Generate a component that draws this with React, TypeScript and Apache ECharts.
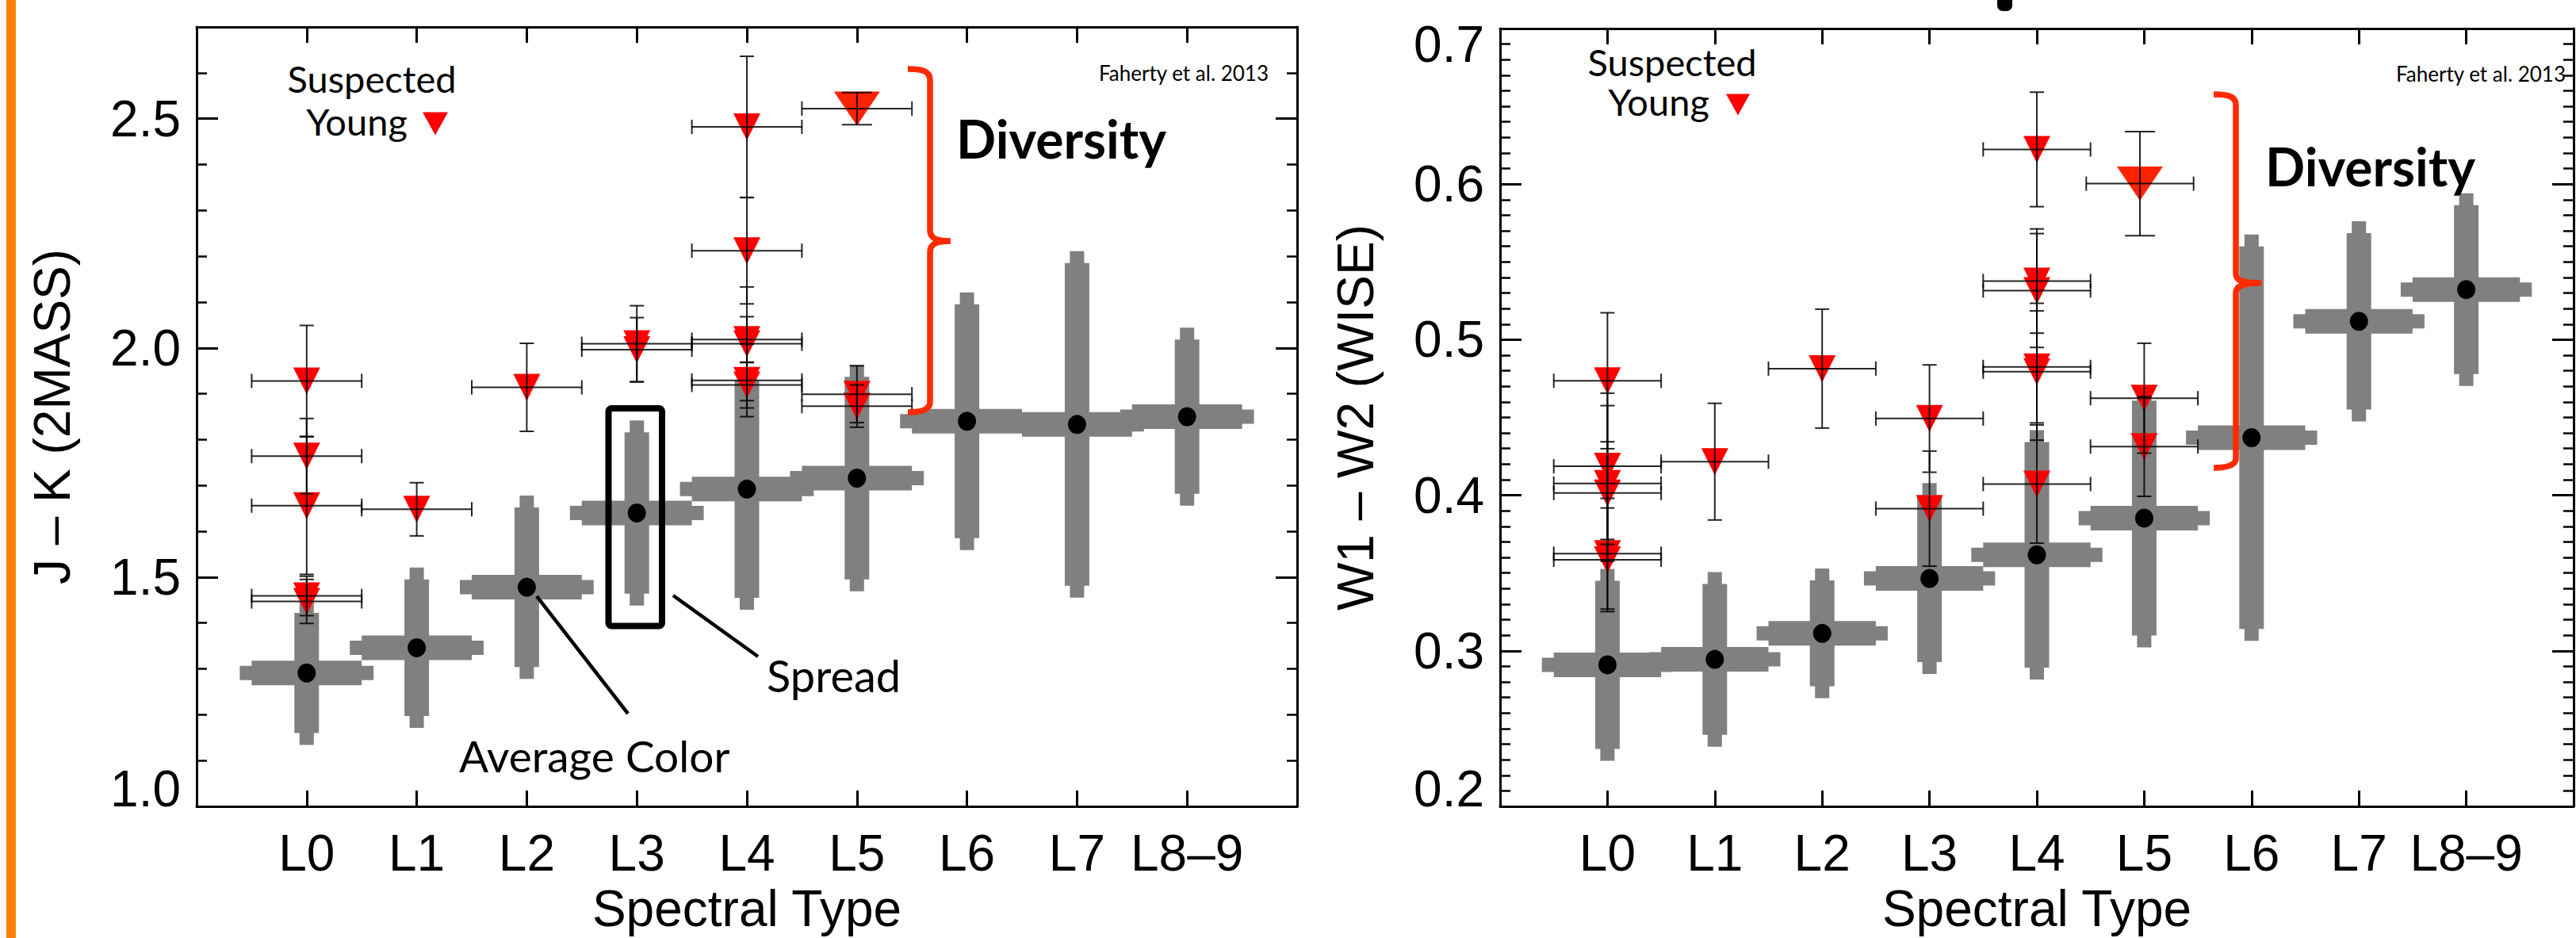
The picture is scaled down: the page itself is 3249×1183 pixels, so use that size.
import React, { useEffect, useRef } from 'react';
import * as echarts from 'echarts';

// ---------------- data ----------------
const categories = ['L0', 'L1', 'L2', 'L3', 'L4', 'L5', 'L6', 'L7', 'L8–9'];
const sptIndex = [0, 1, 2, 3, 4, 5, 6, 7, 8];
const SPT_ERR = 0.5; // half-width of spectral type uncertainty

// J - K (2MASS): average colour and spread per spectral type
const jkMean = [1.291, 1.346, 1.478, 1.64, 1.692, 1.716, 1.84, 1.833, 1.85];
const jkSpread = [0.131, 0.149, 0.174, 0.176, 0.237, 0.221, 0.255, 0.352, 0.168];
// suspected young objects (J - K)
const jkYoungSpt = [0, 0, 0, 0, 0, 1, 2, 3, 3, 4, 4, 4, 4, 4, 4, 5, 5];
const jkYoungVal = [1.928, 1.764, 1.656, 1.459, 1.447, 1.648, 1.914, 2.009, 1.996, 2.482, 2.212, 2.018, 2.009, 1.929, 1.919, 1.899, 1.873];
const jkYoungErr = [0.121, 0.082, 0.15, 0.043, 0.048, 0.058, 0.096, 0.083, 0.07, 0.154, 0.116, 0.05, 0.124, 0.079, 0.05, 0.062, 0.046];
const jkBigSpt = [5];
const jkBigVal = [2.522];
const jkBigErr = [0.035];

// W1 - W2 (WISE)
const wMean = [0.291, 0.2945, 0.3112, 0.3465, 0.3617, 0.3853, 0.437, 0.5118, 0.5322];
const wSpread = [0.054, 0.0485, 0.034, 0.0537, 0.0725, 0.0755, 0.123, 0.0567, 0.0543];
const wYoungSpt = [0, 0, 0, 0, 0, 0, 1, 2, 3, 3, 4, 4, 4, 4, 4, 4, 5, 5];
const wYoungVal = [0.4736, 0.4186, 0.4076, 0.4014, 0.3624, 0.3585, 0.4216, 0.4814, 0.4493, 0.3914, 0.6223, 0.5377, 0.5316, 0.4825, 0.4794, 0.4072, 0.4624, 0.4313];
const wYoungErr = [0.0437, 0.047, 0.05, 0.033, 0.0356, 0.0333, 0.0375, 0.0382, 0.0345, 0.037, 0.0368, 0.0335, 0.0366, 0.036, 0.044, 0.038, 0.0353, 0.032];
const wBigSpt = [4.96];
const wBigVal = [0.6003];
const wBigErr = [0.0335];

// axis ticks
const jkTickValues = [1.0, 1.5, 2.0, 2.5];
const jkTickLabels = ['1.0', '1.5', '2.0', '2.5'];
const wTickValues = [0.2, 0.3, 0.4, 0.5, 0.6, 0.7];
const wTickLabels = ['0.2', '0.3', '0.4', '0.5', '0.6', '0.7'];

// ---------------- shapes ----------------
const braceLeft =
  'M1145 87 C1162 87 1173 89 1173 101 L1173 290 C1173 300 1180 304 1199 304 C1180 304 1173 308 1173 318 L1173 507 C1173 517 1162 520 1145 520';
const braceRight =
  'M2792 119 C2809 119 2820 121 2820 132 L2820 345 C2820 354 2828 357 2852 357 C2828 357 2820 361 2820 369 L2820 578 C2820 587 2809 590 2792 590';
echarts.graphic.registerShape('braceLeft', echarts.graphic.extendPath(braceLeft, {}));
echarts.graphic.registerShape('braceRight', echarts.graphic.extendPath(braceRight, {}));

const AXIS_FONT = '"Liberation Sans", Arial, sans-serif';
const NOTE_FONT = 'Lato, "Open Sans", sans-serif';
const GRAY = '#808080';

function crossRender(params: any, api: any) {
  const x = api.value(0);
  const m = api.value(1);
  const s = api.value(2);
  const c = api.coord([x, m]);
  const top = api.coord([x, m + s])[1];
  const bot = api.coord([x, m - s])[1];
  const l = api.coord([x - SPT_ERR, m])[0];
  const r = api.coord([x + SPT_ERR, m])[0];
  const ext = 15;
  const style = { fill: GRAY };
  return {
    type: 'group',
    children: [
      { type: 'rect', shape: { x: c[0] - 9, y: top - ext, width: 18, height: bot - top + 2 * ext }, style },
      { type: 'rect', shape: { x: c[0] - 15.5, y: top, width: 31, height: bot - top }, style },
      { type: 'rect', shape: { x: l - ext, y: c[1] - 9, width: r - l + 2 * ext, height: 18 }, style },
      { type: 'rect', shape: { x: l, y: c[1] - 15.5, width: r - l, height: 31 }, style },
    ],
  };
}

function errRender(capHalf: number) {
  return (params: any, api: any) => {
    const x = api.value(0);
    const v = api.value(1);
    const e = api.value(2);
    const c = api.coord([x, v]);
    const t = api.coord([x, v + e])[1];
    const b = api.coord([x, v - e])[1];
    const l = api.coord([x - SPT_ERR, v])[0];
    const r = api.coord([x + SPT_ERR, v])[0];
    const st = { stroke: '#000', lineWidth: 2, opacity: 0.85 };
    return {
      type: 'group',
      children: [
        { type: 'line', shape: { x1: c[0], y1: t, x2: c[0], y2: b }, style: st },
        { type: 'line', shape: { x1: c[0] - capHalf, y1: t, x2: c[0] + capHalf, y2: t }, style: st },
        { type: 'line', shape: { x1: c[0] - capHalf, y1: b, x2: c[0] + capHalf, y2: b }, style: st },
        { type: 'line', shape: { x1: l, y1: c[1], x2: r, y2: c[1] }, style: st },
        { type: 'line', shape: { x1: l, y1: c[1] - 9, x2: l, y2: c[1] + 9 }, style: st },
        { type: 'line', shape: { x1: r, y1: c[1] - 9, x2: r, y2: c[1] + 9 }, style: st },
      ],
    };
  };
}

function xAxisDef(gridIndex: number, position: string, showLabel: boolean) {
  return {
    type: 'value',
    gridIndex,
    position,
    min: -1,
    max: 9,
    interval: 1,
    axisLine: { show: true, onZero: false, lineStyle: { color: '#000', width: 3 } },
    axisTick: { show: true, inside: true, length: 20, lineStyle: { color: '#000', width: 3 } },
    axisLabel: {
      show: showLabel,
      margin: 27,
      fontSize: 64,
      fontFamily: AXIS_FONT,
      color: '#000',
      formatter: (v: number) => {
        const i = Math.round(v);
        return Math.abs(v - i) < 1e-6 && i >= 0 && i < categories.length ? categories[i] : '';
      },
    },
    splitLine: { show: false },
    name: showLabel ? 'Spectral Type' : '',
    nameLocation: 'middle',
    nameGap: 97,
    nameTextStyle: { fontSize: 64, fontFamily: AXIS_FONT, color: '#000' },
  };
}

function yAxisDef(
  gridIndex: number,
  position: string,
  min: number,
  max: number,
  interval: number,
  minorSplit: number,
  values: number[],
  labels: string[],
  showLabel: boolean,
  name: string
) {
  const base = { fontSize: 64, fontFamily: AXIS_FONT, color: '#000' };
  return {
    type: 'value',
    gridIndex,
    position,
    min,
    max,
    interval,
    axisLine: { show: true, onZero: false, lineStyle: { color: '#000', width: 3 } },
    axisTick: { show: true, inside: true, length: 27, lineStyle: { color: '#000', width: 3 } },
    minorTick: { show: true, splitNumber: minorSplit, length: 13, lineStyle: { color: '#000', width: 2.5 } },
    splitLine: { show: false },
    minorSplitLine: { show: false },
    axisLabel: {
      show: showLabel,
      margin: 20,
      ...base,
      formatter: (v: number) => {
        const k = values.findIndex((t) => Math.abs(t - v) < 1e-6);
        if (k < 0) return '';
        if (Math.abs(v - min) < 1e-6) return `{lo|${labels[k]}}`;
        if (Math.abs(v - max) < 1e-6) return `{hi|${labels[k]}}`;
        return labels[k];
      },
      rich: {
        lo: { ...base, padding: [0, 0, 44, 0] },
        hi: { ...base, padding: [40, 0, 0, 0] },
      },
    },
    name,
    nameLocation: 'middle',
    nameRotate: 90,
    nameGap: 150,
    nameTextStyle: { fontSize: 64, fontFamily: AXIS_FONT, color: '#000' },
  };
}

function panelSeries(
  xi: number,
  yi: number,
  mean: number[],
  spread: number[],
  ySpt: number[],
  yVal: number[],
  yErr: number[],
  bSpt: number[],
  bVal: number[],
  bErr: number[]
) {
  return [
    {
      type: 'custom',
      xAxisIndex: xi,
      yAxisIndex: yi,
      z: 1,
      renderItem: crossRender,
      encode: { x: 0, y: 1 },
      data: sptIndex.map((i) => [i, mean[i], spread[i]]),
    },
    {
      type: 'scatter',
      xAxisIndex: xi,
      yAxisIndex: yi,
      z: 2,
      symbol: 'circle',
      symbolSize: [23, 24],
      itemStyle: { color: '#000', opacity: 1 },
      data: sptIndex.map((i) => [i, mean[i]]),
    },
    {
      type: 'scatter',
      xAxisIndex: xi,
      yAxisIndex: yi,
      z: 3,
      symbol: 'triangle',
      symbolRotate: 180,
      symbolSize: [34, 34],
      itemStyle: { color: '#ff0000', opacity: 1 },
      data: ySpt.map((s, k) => [s, yVal[k]]),
    },
    {
      type: 'scatter',
      xAxisIndex: xi,
      yAxisIndex: yi,
      z: 3,
      symbol: 'triangle',
      symbolRotate: 180,
      symbolSize: [58, 43],
      itemStyle: { color: '#ff2200', opacity: 1 },
      data: bSpt.map((s, k) => [s, bVal[k]]),
    },
    {
      type: 'custom',
      xAxisIndex: xi,
      yAxisIndex: yi,
      z: 4,
      renderItem: errRender(9),
      encode: { x: 0, y: 1 },
      data: ySpt.map((s, k) => [s, yVal[k], yErr[k]]),
    },
    {
      type: 'custom',
      xAxisIndex: xi,
      yAxisIndex: yi,
      z: 4,
      renderItem: errRender(19),
      encode: { x: 0, y: 1 },
      data: bSpt.map((s, k) => [s, bVal[k], bErr[k]]),
    },
  ];
}

function noteText(text: string, x: number, y: number, size: number, align = 'left', bold = false) {
  return {
    type: 'text',
    x,
    y,
    z: 10,
    style: {
      text,
      fill: '#000',
      fontSize: size,
      fontFamily: NOTE_FONT,
      fontWeight: bold ? 'bold' : 'normal',
      align,
      verticalAlign: 'middle',
    },
  };
}

export default function App() {
  const ref = useRef<HTMLDivElement>(null);

  useEffect(() => {
    if (!ref.current) return;
    const chart = echarts.init(ref.current, undefined, { renderer: 'svg' });
    const option: any = {
      animation: false,
      backgroundColor: '#fff',
      grid: [
        { left: 248, top: 34, width: 1388, height: 984 },
        { left: 1892, top: 36, width: 1388, height: 984 },
      ],
      xAxis: [xAxisDef(0, 'bottom', true), xAxisDef(0, 'top', false), xAxisDef(1, 'bottom', true), xAxisDef(1, 'top', false)],
      yAxis: [
        yAxisDef(0, 'left', 1.0, 2.7, 0.5, 5, jkTickValues, jkTickLabels, true, 'J – K (2MASS)'),
        yAxisDef(0, 'right', 1.0, 2.7, 0.5, 5, jkTickValues, jkTickLabels, false, ''),
        yAxisDef(1, 'left', 0.2, 0.7, 0.1, 10, wTickValues, wTickLabels, true, 'W1 – W2 (WISE)'),
        yAxisDef(1, 'right', 0.2, 0.7, 0.1, 10, wTickValues, wTickLabels, false, ''),
      ],
      series: [
        ...panelSeries(0, 0, jkMean, jkSpread, jkYoungSpt, jkYoungVal, jkYoungErr, jkBigSpt, jkBigVal, jkBigErr),
        ...panelSeries(2, 2, wMean, wSpread, wYoungSpt, wYoungVal, wYoungErr, wBigSpt, wBigVal, wBigErr),
      ],
      graphic: [
        { type: 'rect', shape: { x: 8, y: 0, width: 12, height: 1183 }, style: { fill: '#ff8000' } },
        { type: 'rect', shape: { x: 2519, y: -8, width: 19, height: 22, r: 7 }, style: { fill: '#000' } },
        // legend
        noteText('Suspected', 469, 99, 47, 'center'),
        noteText('Young', 450, 153, 47, 'center'),
        { type: 'polygon', shape: { points: [[533, 141.5], [565, 141.5], [549, 170.5]] }, style: { fill: '#ff0000' } },
        noteText('Suspected', 2109, 78, 47, 'center'),
        noteText('Young', 2092, 128, 47, 'center'),
        { type: 'polygon', shape: { points: [[2177, 118.5], [2207, 118.5], [2192, 145.5]] }, style: { fill: '#ff0000' } },
        // citation
        noteText('Faherty et al. 2013', 1600, 92, 26, 'right'),
        noteText('Faherty et al. 2013', 3236, 93, 26, 'right'),
        // diversity
        noteText('Diversity', 1206, 174, 66, 'left', true),
        noteText('Diversity', 2857, 209, 66, 'left', true),
        { type: 'braceLeft', x: 0, y: 0, z: 10, style: { fill: 'none', stroke: '#ff2a00', lineWidth: 7.5 } },
        { type: 'braceRight', x: 0, y: 0, z: 10, style: { fill: 'none', stroke: '#ff2a00', lineWidth: 7.5 } },
        // spread box and annotations
        { type: 'rect', z: 10, shape: { x: 767.5, y: 515, width: 67.5, height: 274.5, r: 4 }, style: { fill: 'none', stroke: '#000', lineWidth: 8 } },
        { type: 'line', z: 10, shape: { x1: 677, y1: 752, x2: 792, y2: 900 }, style: { stroke: '#000', lineWidth: 4.5 } },
        { type: 'line', z: 10, shape: { x1: 849, y1: 751, x2: 956, y2: 828 }, style: { stroke: '#000', lineWidth: 4.5 } },
        noteText('Average Color', 579, 953, 55, 'left'),
        noteText('Spread', 967, 851, 56, 'left'),
      ],
    };
    chart.setOption(option);
    return () => chart.dispose();
  }, []);

  return (
    <div
      ref={ref}
      style={{ position: 'fixed', left: 0, top: 0, width: 3249, height: 1183, background: '#fff' }}
    />
  );
}
